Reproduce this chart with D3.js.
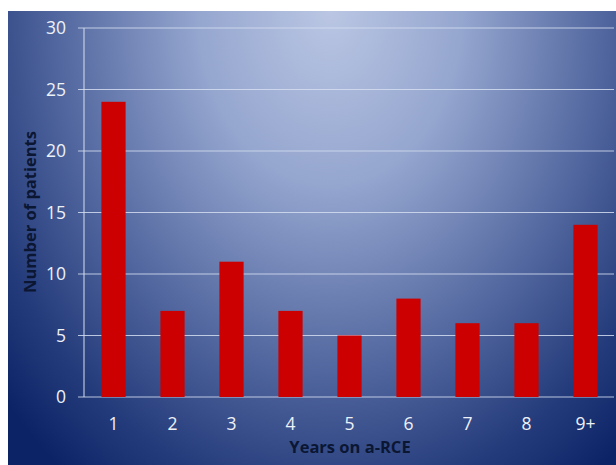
<!DOCTYPE html>
<html>
<head>
<meta charset="utf-8">
<script src="https://cdn.jsdelivr.net/npm/d3@7"></script>
<style>
  body { margin: 0; background: #fff; }
  svg { display: block; font-family: "Open Sans", sans-serif; }
</style>
</head>
<body>
<svg id="chart" width="616" height="465"></svg>
<script>
// data
const years = ["1", "2", "3", "4", "5", "6", "7", "8", "9+"];
const patients = [24, 7, 11, 7, 5, 8, 6, 6, 14];
const yTicks = [0, 5, 10, 15, 20, 25, 30];

const svg = d3.select("#chart");

// background gradient (light at top centre, dark navy at the corners)
const defs = svg.append("defs");
const grad = defs.append("radialGradient")
  .attr("id", "bg")
  .attr("gradientUnits", "userSpaceOnUse")
  .attr("cx", 0).attr("cy", 0).attr("r", 1)
  .attr("gradientTransform", "translate(330,10) scale(440,580)");
[[0, "#bac6e3"], [0.3, "#95a6cf"], [0.6, "#566ba2"], [0.85, "#243b7b"], [1, "#0c2466"]]
  .forEach(s => grad.append("stop").attr("offset", s[0]).attr("stop-color", s[1]));

svg.append("rect")
  .attr("x", 8).attr("y", 11)
  .attr("width", 608).attr("height", 454)
  .attr("fill", "url(#bg)");

const x = d3.scaleBand()
  .domain(years)
  .range([84, 615])
  .paddingInner(0.59)
  .paddingOuter(0.295);

const y = d3.scaleLinear()
  .domain([0, 30])
  .range([397, 28]);

// gridlines
svg.append("g")
  .selectAll("line")
  .data(yTicks)
  .join("line")
    .attr("x1", 78).attr("x2", 614)
    .attr("y1", d => y(d)).attr("y2", d => y(d))
    .attr("stroke", "#d4ddf0")
    .attr("stroke-opacity", 0.85)
    .attr("stroke-width", 1.2);

// vertical axis line
svg.append("line")
  .attr("x1", 84).attr("x2", 84)
  .attr("y1", y(30)).attr("y2", y(0))
  .attr("stroke", "#d4ddf0")
  .attr("stroke-opacity", 0.85)
  .attr("stroke-width", 1.2);

// bars
svg.append("g")
  .selectAll("rect")
  .data(patients)
  .join("rect")
    .attr("x", (d, i) => x(years[i]))
    .attr("y", d => y(d))
    .attr("width", x.bandwidth())
    .attr("height", d => y(0) - y(d))
    .attr("fill", "#cc0000");

// y tick labels
svg.append("g")
  .selectAll("text")
  .data(yTicks)
  .join("text")
    .attr("x", 66)
    .attr("y", d => y(d))
    .attr("dy", "0.36em")
    .attr("text-anchor", "end")
    .attr("fill", "#edf1f8")
    .attr("font-size", 17.5)
    .text(d => d);

// x tick labels
svg.append("g")
  .selectAll("text")
  .data(years)
  .join("text")
    .attr("x", d => x(d) + x.bandwidth() / 2)
    .attr("y", 430)
    .attr("text-anchor", "middle")
    .attr("fill", "#edf1f8")
    .attr("font-size", 17.5)
    .text(d => d);

// axis titles
svg.append("text")
  .attr("x", 350).attr("y", 453)
  .attr("text-anchor", "middle")
  .attr("fill", "#0b1633")
  .attr("font-weight", "bold")
  .attr("font-size", 16.5)
  .text("Years on a-RCE");

svg.append("text")
  .attr("transform", "translate(36,212) rotate(-90)")
  .attr("text-anchor", "middle")
  .attr("fill", "#0b1633")
  .attr("font-weight", "bold")
  .attr("font-size", 16.5)
  .text("Number of patients");
</script>
</body>
</html>
